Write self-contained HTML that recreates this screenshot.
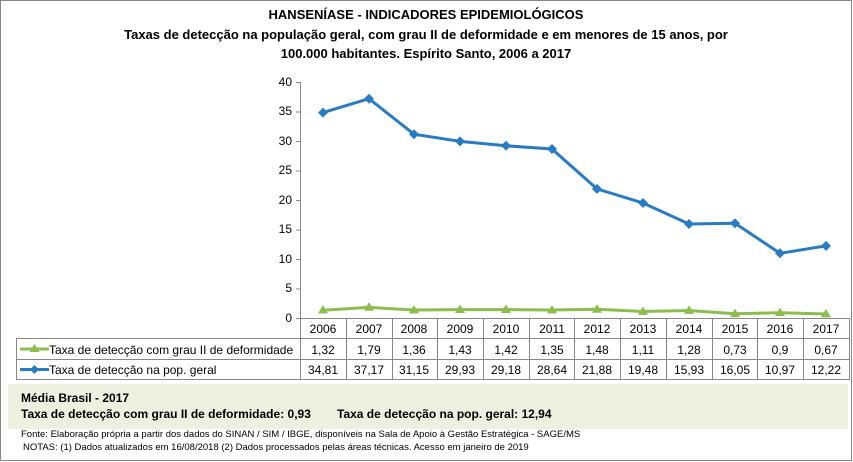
<!DOCTYPE html>
<html><head><meta charset="utf-8"><style>
body{margin:0;width:853px;height:462px;background:#fff;overflow:hidden}
svg{display:block;font-family:"Liberation Sans",sans-serif}
</style></head><body>
<svg width="853" height="462" viewBox="0 0 853 462">
<rect x="0.5" y="0.5" width="851" height="460" fill="#fff" stroke="#888"/>
<text x="426" y="19" text-anchor="middle" font-size="13" font-weight="bold">HANSENÍASE - INDICADORES EPIDEMIOLÓGICOS</text>
<text x="426" y="39" text-anchor="middle" font-size="13" font-weight="bold">Taxas de detecção na população geral, com grau II de deformidade e em menores de 15 anos, por</text>
<text x="426" y="58" text-anchor="middle" font-size="13" font-weight="bold">100.000 habitantes. Espírito Santo, 2006 a 2017</text>
<g font-size="12" text-anchor="end" fill="#000">
<text x="292" y="86">40</text><text x="292" y="115">35</text><text x="292" y="145">30</text><text x="292" y="204" dy="-30"></text>
<text x="292" y="174">25</text><text x="292" y="204">20</text><text x="292" y="233">15</text><text x="292" y="263">10</text><text x="292" y="292">5</text><text x="292" y="322">0</text>
</g>
<line x1="300.5" y1="82" x2="300.5" y2="318" stroke="#888"/>
<g stroke="#888"><line x1="296" y1="82.5" x2="300" y2="82.5"/><line x1="296" y1="112" x2="300" y2="112"/><line x1="296" y1="141.5" x2="300" y2="141.5"/><line x1="296" y1="171" x2="300" y2="171"/><line x1="296" y1="200.5" x2="300" y2="200.5"/><line x1="296" y1="230" x2="300" y2="230"/><line x1="296" y1="259.5" x2="300" y2="259.5"/><line x1="296" y1="289" x2="300" y2="289"/><line x1="296" y1="318.5" x2="300" y2="318.5"/></g>
<!-- table -->
<g stroke="#888" fill="none">
<line x1="300" y1="318.5" x2="849" y2="318.5"/>
<line x1="16" y1="338.5" x2="849" y2="338.5"/>
<line x1="16" y1="359.5" x2="849" y2="359.5"/>
<line x1="16" y1="379.5" x2="849" y2="379.5"/>
<line x1="16.5" y1="338" x2="16.5" y2="380"/>
<line x1="300.5" y1="318" x2="300.5" y2="380"/>
<line x1="346.5" y1="318" x2="346.5" y2="380"/><line x1="392.5" y1="318" x2="392.5" y2="380"/><line x1="437.5" y1="318" x2="437.5" y2="380"/><line x1="483.5" y1="318" x2="483.5" y2="380"/><line x1="529.5" y1="318" x2="529.5" y2="380"/><line x1="574.5" y1="318" x2="574.5" y2="380"/><line x1="620.5" y1="318" x2="620.5" y2="380"/><line x1="666.5" y1="318" x2="666.5" y2="380"/><line x1="712.5" y1="318" x2="712.5" y2="380"/><line x1="757.5" y1="318" x2="757.5" y2="380"/><line x1="803.5" y1="318" x2="803.5" y2="380"/><line x1="849.5" y1="318" x2="849.5" y2="380"/>
</g>
<g font-size="12" text-anchor="middle">
<text x="323" y="333">2006</text><text x="369" y="333">2007</text><text x="414" y="333">2008</text><text x="460" y="333">2009</text><text x="506" y="333">2010</text><text x="552" y="333">2011</text><text x="597" y="333">2012</text><text x="643" y="333">2013</text><text x="689" y="333">2014</text><text x="735" y="333">2015</text><text x="780" y="333">2016</text><text x="826" y="333">2017</text>
<text x="323" y="354">1,32</text><text x="369" y="354">1,79</text><text x="414" y="354">1,36</text><text x="460" y="354">1,43</text><text x="506" y="354">1,42</text><text x="552" y="354">1,35</text><text x="597" y="354">1,48</text><text x="643" y="354">1,11</text><text x="689" y="354">1,28</text><text x="735" y="354">0,73</text><text x="780" y="354">0,9</text><text x="826" y="354">0,67</text>
<text x="323" y="374">34,81</text><text x="369" y="374">37,17</text><text x="414" y="374">31,15</text><text x="460" y="374">29,93</text><text x="506" y="374">29,18</text><text x="552" y="374">28,64</text><text x="597" y="374">21,88</text><text x="643" y="374">19,48</text><text x="689" y="374">15,93</text><text x="735" y="374">16,05</text><text x="780" y="374">10,97</text><text x="826" y="374">12,22</text>
</g>
<line x1="20" y1="349" x2="49" y2="349" stroke="#8cbd4f" stroke-width="3"/>
<polygon points="34.5,344 29.5,352 39.5,352" fill="#8cbd4f"/>
<text x="49" y="354" font-size="12">Taxa de detecção com grau II de deformidade</text>
<line x1="20" y1="369.5" x2="49" y2="369.5" stroke="#2a7bbf" stroke-width="3"/>
<polygon points="34.5,365 39,369.5 34.5,374 30,369.5" fill="#2a7bbf"/>
<text x="49" y="374" font-size="12">Taxa de detecção na pop. geral</text>
<!-- series -->
<polyline fill="none" stroke="#8cbd4f" stroke-width="3" points="323,310.2 369,307.4 414,310 460,309.6 506,309.6 552,310 597,309.3 643,311.5 689,310.5 735,313.7 780,312.7 826,314"/>
<g fill="#8cbd4f">
<polygon points="323,305 318,313.5 328,313.5"/><polygon points="369,302.3 364,310.8 374,310.8"/><polygon points="414,305 409,313.5 419,313.5"/><polygon points="460,304.5 455,313 465,313"/><polygon points="506,304.5 501,313 511,313"/><polygon points="552,305 547,313.5 557,313.5"/><polygon points="597,304.2 592,312.7 602,312.7"/><polygon points="643,306.4 638,314.9 648,314.9"/><polygon points="689,305.4 684,313.9 694,313.9"/><polygon points="735,308.6 730,317.1 740,317.1"/><polygon points="780,307.6 775,316.1 785,316.1"/><polygon points="826,308.9 821,317.4 831,317.4"/>
</g>
<polyline fill="none" stroke="#2a7bbf" stroke-width="3" points="323,112.6 369,98.7 414,134.2 460,141.4 506,145.8 552,149 597,188.9 643,203 689,224 735,223.3 780,253.3 826,245.9"/>
<g fill="#2a7bbf">
<polygon points="323,107.6 328,112.6 323,117.6 318,112.6"/><polygon points="369,93.7 374,98.7 369,103.7 364,98.7"/><polygon points="414,129.2 419,134.2 414,139.2 409,134.2"/><polygon points="460,136.4 465,141.4 460,146.4 455,141.4"/><polygon points="506,140.8 511,145.8 506,150.8 501,145.8"/><polygon points="552,144 557,149 552,154 547,149"/><polygon points="597,183.9 602,188.9 597,193.9 592,188.9"/><polygon points="643,198 648,203 643,208 638,203"/><polygon points="689,219 694,224 689,229 684,224"/><polygon points="735,218.3 740,223.3 735,228.3 730,223.3"/><polygon points="780,248.3 785,253.3 780,258.3 775,253.3"/><polygon points="826,240.9 831,245.9 826,250.9 821,245.9"/>
</g>
<!-- green box -->
<rect x="8" y="384" width="840" height="45" fill="#ebf1de"/>
<text x="21" y="402" font-size="12" font-weight="bold">Média Brasil  - 2017</text>
<text x="21" y="418" font-size="12" font-weight="bold">Taxa de detecção com grau II de deformidade: 0,93</text>
<text x="337" y="418" font-size="12" font-weight="bold">Taxa de detecção na pop. geral: 12,94</text>
<text x="21" y="437" font-size="9.5">Fonte:  Elaboração própria a partir dos dados do  SINAN / SIM / IBGE, disponíveis na Sala de Apoio à Gestão Estratégica - SAGE/MS</text>
<text x="23" y="450" font-size="9.5">NOTAS: (1) Dados atualizados em 16/08/2018 (2) Dados processados pelas áreas técnicas. Acesso em janeiro de 2019</text>
</svg>
</body></html>
